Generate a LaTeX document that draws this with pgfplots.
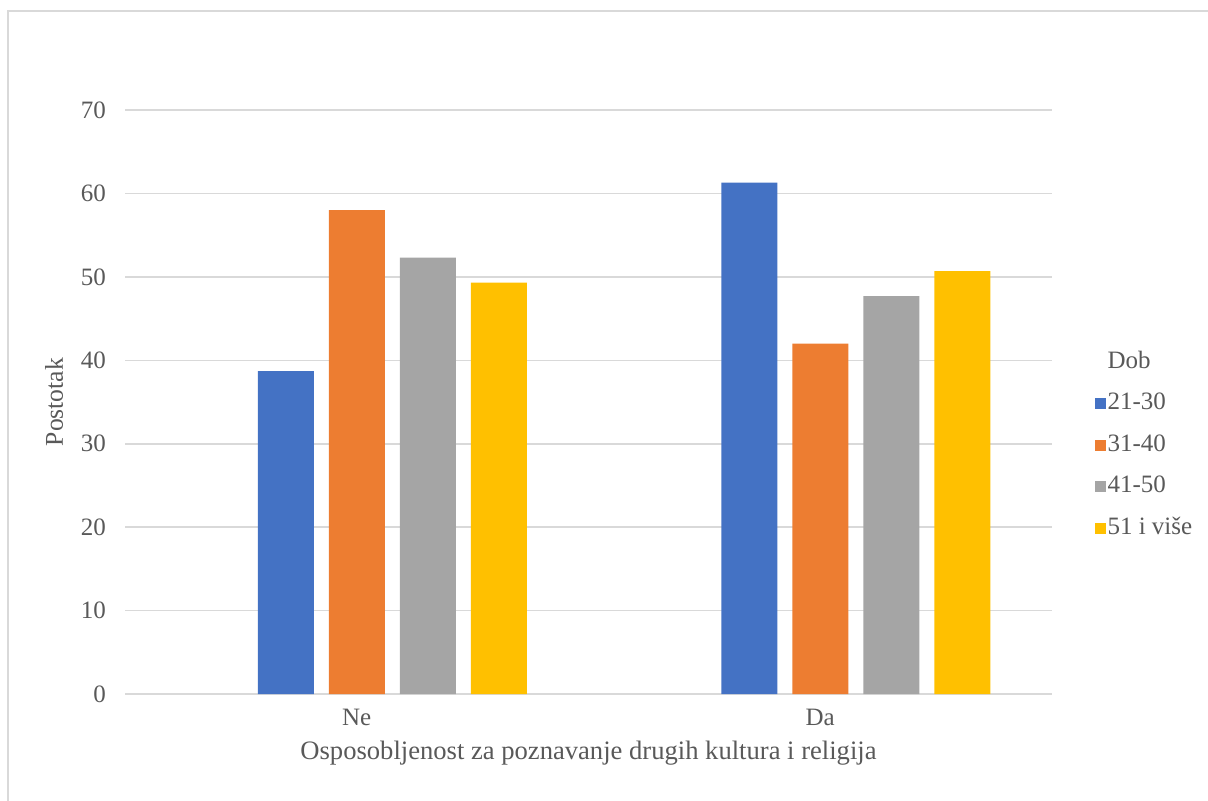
\documentclass[border=0pt]{standalone}
\usepackage{pgfplots}
\pgfplotsset{compat=1.18}
\usepackage{fontspec}
\setmainfont{Liberation Serif}
\definecolor{c1}{HTML}{4472C4}
\definecolor{c2}{HTML}{ED7D31}
\definecolor{c3}{HTML}{A5A5A5}
\definecolor{c4}{HTML}{FFC000}
\definecolor{txt}{HTML}{595959}
\definecolor{gridc}{HTML}{D9D9D9}
\begin{document}
\begin{tikzpicture}[x=1pt,y=1pt]
\useasboundingbox (0,0) rectangle (604,400);
\draw[color=gridc, line width=1pt] (4,-2) rectangle (606,394.5);
\begin{axis}[
  at={(62.5pt,53pt)}, anchor=south west,
  scale only axis, width=463.5pt, height=292pt,
  xmin=-0.5, xmax=1.5, ymin=0, ymax=70,
  ytick={0,10,...,70}, xtick={0,1}, xticklabels={Ne,Da},
  ybar=7.5pt, bar width=28pt,
  axis x line*=bottom, axis y line*=left,
  y axis line style={draw=none},
  x axis line style={color=gridc, line width=0.8pt},
  major tick length=0pt,
  ymajorgrids, grid style={color=gridc, line width=0.8pt},
  /pgf/number format/assume math mode=true,
  tick label style={font=\fontsize{12.5}{15}\selectfont, color=txt},
  yticklabel style={xshift=-6pt},
  xticklabel style={yshift=-4pt},
  xlabel={Osposobljenost za poznavanje drugih kultura i religija},
  ylabel={Postotak},
  label style={color=txt},
  xlabel style={font=\fontsize{13.3}{16}\selectfont, yshift=-1pt},
  ylabel style={font=\fontsize{12.8}{15}\selectfont, yshift=2pt},
  legend cell align=left,
  legend image code/.code={\fill[#1] (0pt,-2.75pt) rectangle (5.5pt,2.75pt);},
  legend style={at={(1.039,0.426)}, anchor=west, draw=none, fill=none,
    font=\fontsize{12.5}{15}\selectfont, text=txt, row sep=6.75pt,
    nodes={inner sep=1pt, text height=9pt, text depth=3pt},
    /tikz/every odd column/.style={inner sep=1pt},
    /tikz/every even column/.style={inner sep=1.5pt}},
]
\addlegendimage{empty legend}\addlegendentry{Dob}
\addplot[fill=c1, draw=none, bar shift=-35.5pt] coordinates {(0,38.7) (1,61.3)};
\addlegendentry{21-30}
\addplot[fill=c2, draw=none, bar shift=0pt] coordinates {(0,58.0) (1,42.0)};
\addlegendentry{31-40}
\addplot[fill=c3, draw=none, bar shift=35.5pt] coordinates {(0,52.3) (1,47.7)};
\addlegendentry{41-50}
\addplot[fill=c4, draw=none, bar shift=71pt] coordinates {(0,49.3) (1,50.7)};
\addlegendentry{51 i više}
\end{axis}
\end{tikzpicture}
\end{document}
